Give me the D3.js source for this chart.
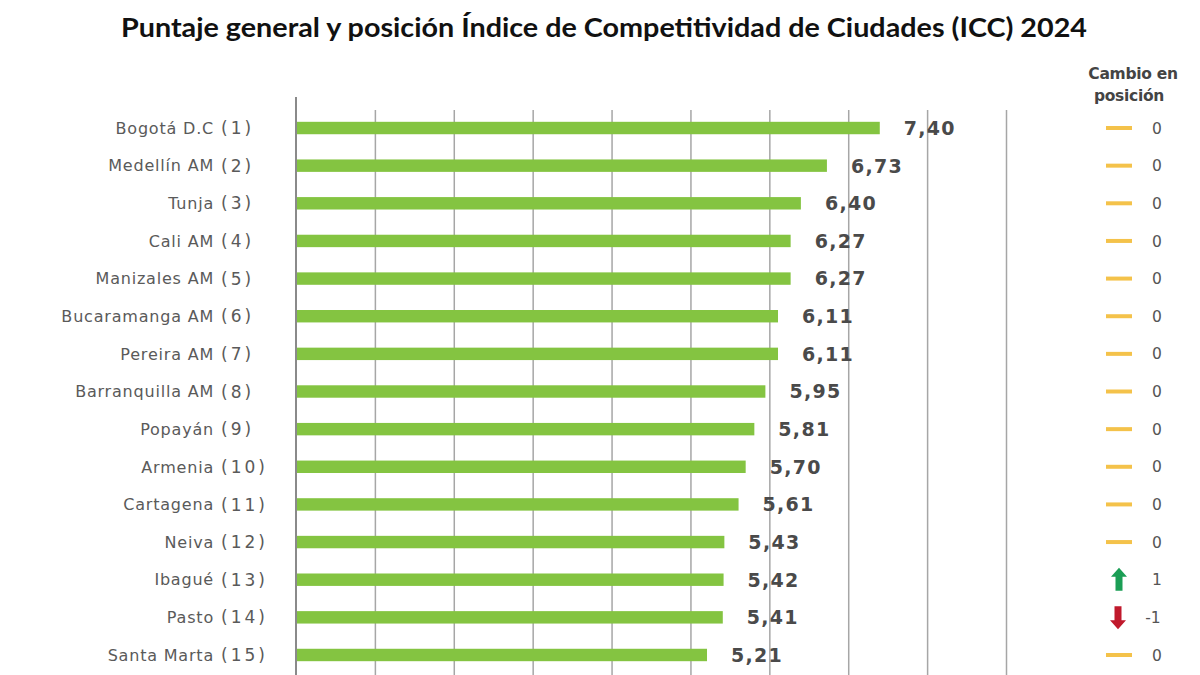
<!DOCTYPE html>
<html><head><meta charset="utf-8">
<script src="https://cdn.jsdelivr.net/npm/d3@7"></script>
<style>body{margin:0;background:#fff}svg{display:block}</style>
</head><body><svg id="c" width="1200" height="675"></svg>
<script>
const cities = ["Bogotá D.C","Medellín AM","Tunja","Cali AM","Manizales AM","Bucaramanga AM","Pereira AM","Barranquilla AM","Popayán","Armenia","Cartagena","Neiva","Ibagué","Pasto","Santa Marta"];
const positions = [1,2,3,4,5,6,7,8,9,10,11,12,13,14,15];
const scores = [7.40,6.73,6.40,6.27,6.27,6.11,6.11,5.95,5.81,5.70,5.61,5.43,5.42,5.41,5.21];
const changes = [0,0,0,0,0,0,0,0,0,0,0,0,1,-1,0];
const gridTicks = [1,2,3,4,5,6,7,8,9];

const svg = d3.select("#c");
const x = d3.scaleLinear().domain([0,9]).range([296,1006]);
const y = d3.scaleBand().domain(d3.range(cities.length)).range([109.2,673.8])
  .paddingInner(0.67).paddingOuter(0.335);
const cyOf = i => y(i)+y.bandwidth()/2;

svg.append("text").attr("x",604).attr("y",37).attr("text-anchor","middle")
  .attr("font-family","Lato, 'Open Sans', sans-serif").attr("font-weight","bold")
  .attr("font-size",27).attr("fill","#111")
  .attr("textLength",966).attr("lengthAdjust","spacingAndGlyphs")
  .text("Puntaje general y posición Índice de Competitividad de Ciudades (ICC) 2024");

// gridlines via axis
const gAxis = svg.append("g").attr("transform","translate(0,110)")
  .call(d3.axisTop(x).tickValues(gridTicks).tickSize(-565).tickFormat(""));
gAxis.select(".domain").remove();
gAxis.selectAll(".tick line").attr("stroke","#a6a6a6").attr("stroke-width",1.5);
svg.append("line").attr("x1",x(0)).attr("x2",x(0)).attr("y1",97).attr("y2",675)
  .attr("stroke","#8a8a8a").attr("stroke-width",2);

// bars
svg.append("g").selectAll("rect").data(scores).join("rect")
  .attr("x",x(0)+1).attr("y",(d,i)=>y(i)).attr("width",d=>x(d)-x(0)-1)
  .attr("height",y.bandwidth()).attr("fill","#84c441");

// value labels
svg.append("g").selectAll("text").data(scores).join("text")
  .attr("x",d=>x(d)+24).attr("y",(d,i)=>cyOf(i)).attr("dy","0.36em")
  .attr("font-family","'DejaVu Sans', sans-serif").attr("font-weight","bold")
  .attr("font-size",19).attr("letter-spacing",1.3).attr("fill","#4a4a4a")
  .text(d=>d3.format(".2f")(d).replace(".",","));

// category labels
const lab = svg.append("g");
lab.selectAll("text.n").data(cities).join("text").attr("class","n")
  .attr("x",214).attr("y",(d,i)=>cyOf(i)).attr("dy","0.36em")
  .attr("text-anchor","end").attr("font-family","'DejaVu Sans', sans-serif")
  .attr("font-size",16).attr("letter-spacing",0.8).attr("fill","#5a5a5a").text(d=>d);
lab.selectAll("text.p").data(positions).join("text").attr("class","p")
  .attr("x",221).attr("y",(d,i)=>cyOf(i)).attr("dy","0.36em")
  .attr("font-family","'DejaVu Sans', sans-serif")
  .attr("font-size",17).attr("letter-spacing",3).attr("fill","#5a5a5a").text(d=>"("+d+")");

// change column
const hdr = svg.append("g").attr("font-family","'DejaVu Sans', sans-serif")
  .attr("font-weight","bold").attr("font-size",15.5).attr("letter-spacing",-0.3)
  .attr("fill","#444").attr("text-anchor","middle");
hdr.append("text").attr("x",1133).attr("y",79).text("Cambio en");
hdr.append("text").attr("x",1129).attr("y",101).text("posición");

const ch = svg.append("g");
changes.forEach((c,i)=>{
  const cy = cyOf(i);
  if(c===0){
    ch.append("line").attr("x1",1106).attr("x2",1132).attr("y1",cy).attr("y2",cy)
      .attr("stroke","#f4c24a").attr("stroke-width",4);
  } else if(c>0){
    ch.append("path").attr("d",`M1119,${cy-12} L1127,${cy-3} L1122.5,${cy-3} L1122.5,${cy+11} L1115.5,${cy+11} L1115.5,${cy-3} L1111,${cy-3} Z`)
      .attr("fill","#1b9e55");
  } else {
    ch.append("path").attr("d",`M1118,${cy+12} L1126,${cy+3} L1121.5,${cy+3} L1121.5,${cy-11} L1114.5,${cy-11} L1114.5,${cy+3} L1110,${cy+3} Z`)
      .attr("fill","#c0192c");
  }
  ch.append("text").attr("x",c<0?1153:1157).attr("y",cy).attr("dy","0.36em")
    .attr("text-anchor","middle").attr("font-family","'DejaVu Sans', sans-serif")
    .attr("font-size",15.5).attr("fill","#555").text(c);
});
</script></body></html>
